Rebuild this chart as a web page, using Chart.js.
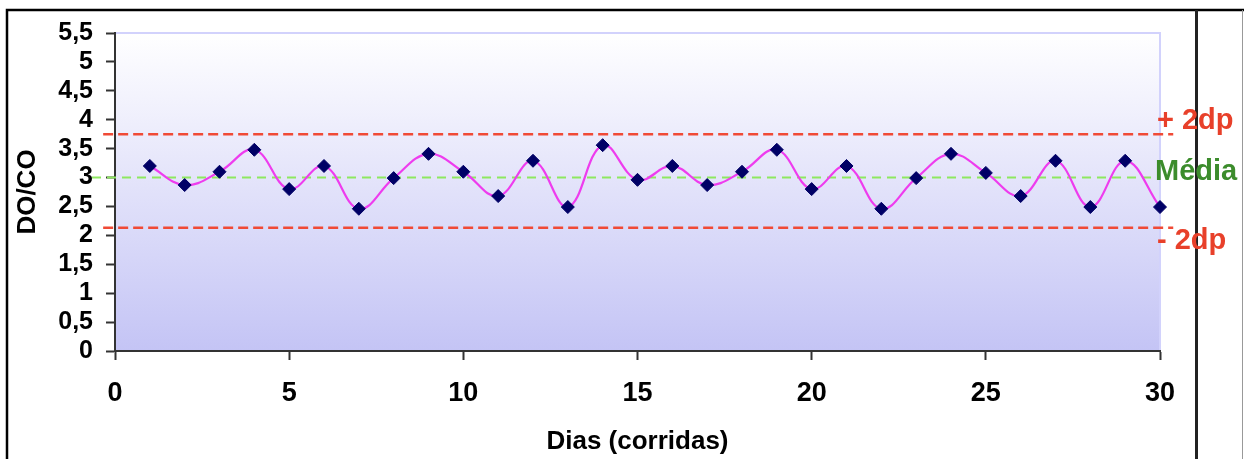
<!DOCTYPE html>
<html>
<head>
<meta charset="utf-8">
<script src="https://cdn.jsdelivr.net/npm/chart.js@4/dist/chart.umd.min.js"></script>
<style>
  html, body { margin: 0; padding: 0; background: #ffffff; }
  #wrap { width: 1244px; height: 459px; position: relative; }
</style>
</head>
<body>
<div id="wrap"><canvas id="c" width="1244" height="459"></canvas></div>
<script>
// ---- data ----
const days = [1,2,3,4,5,6,7,8,9,10,11,12,13,14,15,16,17,18,19,20,21,22,23,24,25,26,27,28,29,30];
const doco = [3.20,2.87,3.10,3.48,2.80,3.20,2.46,2.99,3.41,3.10,2.68,3.29,2.49,3.56,2.96,3.20,2.87,3.10,3.48,2.80,3.20,2.46,2.99,3.41,3.08,2.68,3.29,2.49,3.29,2.49];
const upperLimit = 3.75;   // + 2dp
const meanValue = 3.0;     // Média
const lowerLimit = 2.13;   // - 2dp
const refLineXRed = [-0.34, 30.38];
const refLineXGreen = [-0.66, 29.78];
const refLabels = ['+ 2dp', 'Média', '- 2dp'];
const xTitle = 'Dias (corridas)';
const yTitle = 'DO/CO';

const points = days.map((d, i) => ({x: d, y: doco[i]}));
const hline = (xs, v) => xs.map(x => ({x: x, y: v}));

const framePlugin = {
  id: 'frame',
  beforeDraw(chart) {
    const ctx = chart.ctx;
    ctx.save();
    ctx.fillStyle = '#ffffff';
    ctx.fillRect(0, 0, chart.width, chart.height);
    ctx.strokeStyle = '#000000';
    ctx.lineWidth = 2.5;
    ctx.beginPath();
    ctx.moveTo(7, chart.height);
    ctx.lineTo(7, 10);
    ctx.lineTo(chart.width, 10);
    ctx.stroke();
    ctx.lineWidth = 3;
    ctx.strokeStyle = '#222222';
    ctx.beginPath();
    ctx.moveTo(1196.5, 10);
    ctx.lineTo(1196.5, chart.height);
    ctx.stroke();
    ctx.lineWidth = 1;
    ctx.strokeStyle = '#999999';
    ctx.beginPath();
    ctx.moveTo(1242.5, 10);
    ctx.lineTo(1242.5, chart.height);
    ctx.stroke();
    // plot area background
    const a = chart.chartArea;
    const g = ctx.createLinearGradient(0, a.top, 0, a.bottom);
    g.addColorStop(0, '#ffffff');
    g.addColorStop(1, '#c4c4f5');
    ctx.fillStyle = g;
    ctx.fillRect(a.left, a.top, a.right - a.left, a.bottom - a.top);
    ctx.strokeStyle = '#d2d2fc';
    ctx.lineWidth = 2;
    ctx.beginPath();
    ctx.moveTo(a.left, a.top);
    ctx.lineTo(a.right, a.top);
    ctx.lineTo(a.right, a.bottom);
    ctx.stroke();
    ctx.restore();
  }
};

const labelPlugin = {
  id: 'reflabels',
  afterDraw(chart) {
    const ctx = chart.ctx;
    const ys = chart.scales.y;
    const xs = chart.scales.x;
    const xr = xs.getPixelForValue(30);
    ctx.save();
    ctx.font = 'bold 29px "Liberation Sans"';
    ctx.textAlign = 'left';
    ctx.textBaseline = 'middle';
    ctx.fillStyle = '#e8402a';
    ctx.fillText(refLabels[0], xr - 3, ys.getPixelForValue(upperLimit) - 13);
    ctx.fillStyle = '#3c8c2c';
    ctx.fillText(refLabels[1], xr - 5, ys.getPixelForValue(meanValue) - 6);
    ctx.fillStyle = '#e8402a';
    ctx.fillText(refLabels[2], xr - 3, ys.getPixelForValue(lowerLimit) + 13);
    ctx.restore();
  }
};

new Chart(document.getElementById('c'), {
  type: 'scatter',
  data: {
    datasets: [
      {
        label: 'upper', data: hline(refLineXRed, upperLimit), showLine: true,
        borderColor: '#f04a36', borderWidth: 2.5, borderDash: [10, 5], pointRadius: 0, clip: false, order: 3
      },
      {
        label: 'mean', data: hline(refLineXGreen, meanValue), showLine: true,
        borderColor: '#8ee860', borderWidth: 2, borderDash: [9, 6], pointRadius: 0, clip: false, order: 3
      },
      {
        label: 'lower', data: hline(refLineXRed, lowerLimit), showLine: true,
        borderColor: '#f04a36', borderWidth: 2.5, borderDash: [10, 5], pointRadius: 0, clip: false, order: 3
      },
      {
        label: 'DO/CO', data: points, showLine: true,
        borderColor: '#ee3cee', borderWidth: 2.2, tension: 0.4,
        pointStyle: 'rectRot', pointRadius: 6.5, pointBackgroundColor: '#000066',
        pointBorderColor: '#000066', pointBorderWidth: 1, clip: false, order: 1
      }
    ]
  },
  options: {
    responsive: false,
    animation: false,
    devicePixelRatio: 1,
    layout: { padding: { left: 0, right: 84, top: 33, bottom: 0 } },
    plugins: { legend: { display: false }, tooltip: { enabled: false } },
    scales: {
      x: {
        type: 'linear', min: 0, max: 30,
        afterFit(s) { s.height = 108; },
        ticks: { stepSize: 5, autoSkip: false, color: '#000', font: { family: 'Liberation Sans', size: 27, weight: 'bold' }, padding: 17, maxRotation: 0 },
        grid: { drawOnChartArea: false, drawTicks: true, tickLength: 9, tickColor: '#333', tickWidth: 2 },
        border: { display: true, color: '#333', width: 2 },
        title: { display: true, text: xTitle, color: '#000', font: { family: 'Liberation Sans', size: 26, weight: 'bold' }, padding: { top: 0, bottom: 2 } }
      },
      y: {
        type: 'linear', min: 0, max: 5.5,
        afterFit(s) { s.width = 115; },
        ticks: { stepSize: 0.5, autoSkip: false, color: '#000', font: { family: 'Liberation Sans', size: 25, weight: 'bold', lineHeight: 1 }, padding: 13,
          callback: v => String(v).replace('.', ',') },
        grid: { drawOnChartArea: false, drawTicks: true, tickLength: 9, tickColor: '#333', tickWidth: 2 },
        border: { display: true, color: '#333', width: 2 },
        title: { display: true, text: yTitle, color: '#000', font: { family: 'Liberation Sans', size: 26, weight: 'bold' }, padding: { top: 12, bottom: 0 } }
      }
    }
  },
  plugins: [framePlugin, labelPlugin]
});
</script>
</body>
</html>
